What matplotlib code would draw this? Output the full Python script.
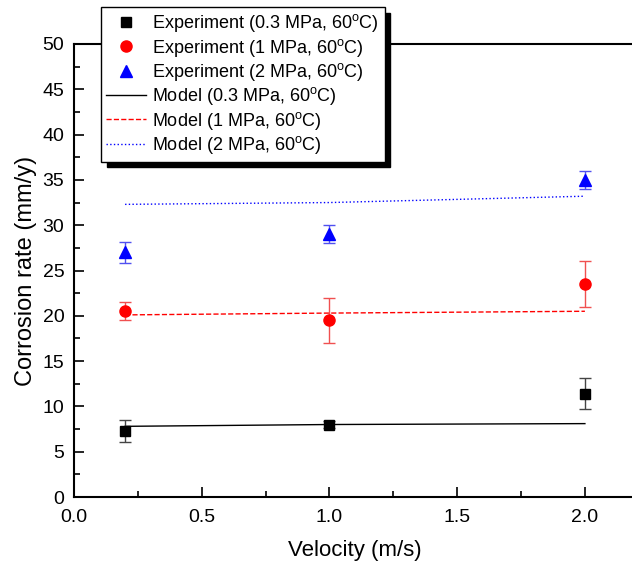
import matplotlib
matplotlib.use("Agg")
import matplotlib.pyplot as plt
from matplotlib.lines import Line2D
from matplotlib.ticker import MultipleLocator

plt.rcParams['font.family'] = ['Liberation Sans', 'DejaVu Sans']
plt.rcParams['mathtext.fontset'] = 'custom'
plt.rcParams['mathtext.rm'] = 'Liberation Sans'

# velocity (m/s)
velocity = [0.2, 1.0, 2.0]

# experiment (mm/y) with error bars
exp_03 = [7.3, 8.0, 11.4]
err_03 = [1.2, 0.4, 1.7]
exp_1 = [20.5, 19.5, 23.5]
err_1 = [1.0, 2.5, 2.5]
exp_2 = [27.0, 29.0, 35.0]
err_2 = [1.2, 1.0, 1.0]

# model (mm/y)
mod_03 = [7.8, 8.0, 8.1]
mod_1 = [20.1, 20.3, 20.5]
mod_2 = [32.3, 32.5, 33.2]

deg = '60$^{\\rm o}$C'

fig = plt.figure(figsize=(6.32, 5.65), dpi=100)
ax = fig.add_axes([74/632, 1-497/565, 562/632, (497-44)/565])

ax.errorbar(velocity, exp_03, yerr=err_03, fmt='s', color='black', ms=7,
            ecolor='#444444', elinewidth=1, capsize=4, capthick=1, zorder=3)
ax.errorbar(velocity, exp_1, yerr=err_1, fmt='o', color='red', ms=8,
            ecolor='#f05050', elinewidth=1, capsize=4, capthick=1, zorder=3)
ax.errorbar(velocity, exp_2, yerr=err_2, fmt='^', color='blue', ms=8,
            ecolor='#5050f0', elinewidth=1, capsize=4, capthick=1, zorder=3)

ax.plot(velocity, mod_03, '-', color='black', lw=1)
ax.plot(velocity, mod_1, '--', color='red', lw=1)
ax.plot(velocity, mod_2, ':', color='blue', lw=1)

ax.set_xlim(0, 2.2)
ax.set_ylim(0, 50)
ax.xaxis.set_major_locator(MultipleLocator(0.5))
ax.xaxis.set_minor_locator(MultipleLocator(0.25))
ax.yaxis.set_major_locator(MultipleLocator(5))
ax.yaxis.set_minor_locator(MultipleLocator(2.5))
ax.tick_params(which='both', direction='in', labelsize=14, width=1.2)
ax.tick_params(which='major', length=7)
ax.tick_params(which='minor', length=4)
ax.tick_params(axis='x', pad=9)
ax.tick_params(axis='y', pad=7)
for s in ax.spines.values():
    s.set_linewidth(1.5)

ax.set_xlabel('Velocity (m/s)', fontsize=16, labelpad=10)
ax.set_ylabel('Corrosion rate (mm/y)', fontsize=17, labelpad=4)

handles = [
    Line2D([], [], ls='none', marker='s', color='black', ms=7),
    Line2D([], [], ls='none', marker='o', color='red', ms=8),
    Line2D([], [], ls='none', marker='^', color='blue', ms=8),
    Line2D([], [], ls='-', color='black', lw=1),
    Line2D([], [], ls='--', color='red', lw=1),
    Line2D([], [], ls=':', color='blue', lw=1),
]
labels = [
    'Experiment (0.3 MPa, ' + deg + ')',
    'Experiment (1 MPa, ' + deg + ')',
    'Experiment (2 MPa, ' + deg + ')',
    'Model (0.3 MPa, ' + deg + ')',
    'Model (1 MPa, ' + deg + ')',
    'Model (2 MPa, ' + deg + ')',
]
leg = ax.legend(handles, labels, loc='upper left', bbox_to_anchor=(101/632, 1-7/565),
                bbox_transform=fig.transFigure, fontsize=13, borderaxespad=0,
                fancybox=False, edgecolor='black', framealpha=1,
                shadow={'color': 'black', 'alpha': 1, 'ox': 4, 'oy': -4},
                handlelength=2.2, handletextpad=0.35, labelspacing=0.13,
                borderpad=0.3)
leg.get_frame().set_linewidth(1)
leg.set_zorder(10)

fig.savefig('out.png', dpi=100)
